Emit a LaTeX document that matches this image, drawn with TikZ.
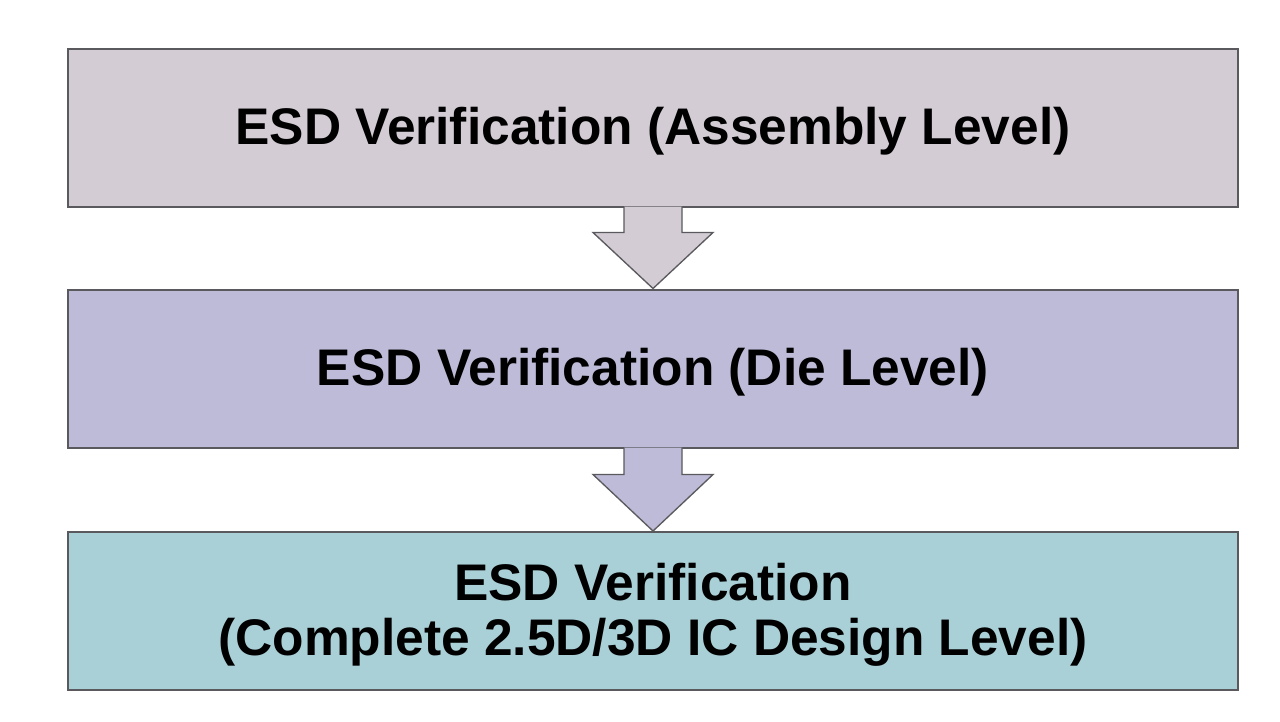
\documentclass[tikz,border=0pt]{standalone}
\usepackage{fontspec}
\setmainfont{Liberation Sans}
\usetikzlibrary{calc}
\definecolor{boxA}{HTML}{D3CCD4}
\definecolor{boxB}{HTML}{BDBBD7}
\definecolor{boxC}{HTML}{A9D0D7}
\definecolor{edge}{HTML}{5A5A5E}
\tikzset{
  stage/.style={draw=edge, line width=1.5pt, minimum width=877.5pt, minimum height=118.5pt, inner sep=0pt},
  stagetext/.style={font=\fontsize{38.6}{41}\selectfont\bfseries, align=center, text=black, inner sep=0pt, yshift=-3pt},
  flowarrow/.style={draw=edge, line width=1pt, line join=miter}
}
\begin{document}
\begin{tikzpicture}[x=0.75pt,y=-0.75pt]
\useasboundingbox (0,0) rectangle (1280,721);
\fill[white] (0,0) rectangle (1280,721);
\node[stage, fill=boxA] (b1) at (653,127.5) {};
\node[stage, fill=boxB] (b2) at (653,368.5) {};
\node[stage, fill=boxC] (b3) at (653,611) {};
\node[stagetext] (t1) at (b1.center) {ESD Verification (Assembly Level)};
\node[stagetext] (t2) at (b2.center) {ESD Verification (Die Level)};
\node[stagetext] (t3) at (b3.center) {ESD Verification\\(Complete 2.5D/3D IC Design Level)};
\draw[flowarrow, fill=boxA]
  ($(b1.south)+(-29,-1)$) -- ($(b1.south)+(-29,25)$) -- ($(b1.south)+(-60,25)$)
  -- ($(b2.north)+(0,0)$) -- ($(b1.south)+(60,25)$) -- ($(b1.south)+(29,25)$)
  -- ($(b1.south)+(29,-1)$);
\draw[flowarrow, fill=boxB]
  ($(b2.south)+(-29,-1)$) -- ($(b2.south)+(-29,26)$) -- ($(b2.south)+(-60,26)$)
  -- ($(b3.north)+(0,0)$) -- ($(b2.south)+(60,26)$) -- ($(b2.south)+(29,26)$)
  -- ($(b2.south)+(29,-1)$);
\end{tikzpicture}
\end{document}
